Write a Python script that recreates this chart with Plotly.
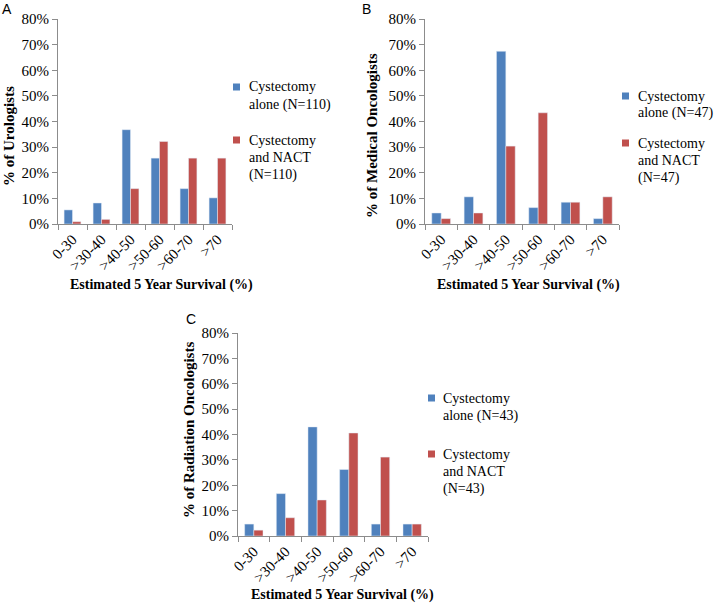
import plotly.graph_objects as go

W, H = 714, 608

categories = ["0-30", ">30-40", ">40-50", ">50-60", ">60-70", ">70"]

# share of respondents (fraction) per survival bucket
uro_alone = [0.055, 0.082, 0.368, 0.257, 0.138, 0.102]
uro_nact = [0.009, 0.018, 0.138, 0.322, 0.257, 0.257]

med_alone = [0.043, 0.106, 0.674, 0.064, 0.085, 0.021]
med_nact = [0.021, 0.043, 0.304, 0.434, 0.085, 0.106]

rad_alone = [0.047, 0.167, 0.430, 0.262, 0.047, 0.047]
rad_nact = [0.023, 0.072, 0.142, 0.406, 0.311, 0.047]

panels = [
    ("A", "% of Urologists", uro_alone, uro_nact, 110),
    ("B", "% of Medical Oncologists", med_alone, med_nact, 47),
    ("C", "% of Radiation Oncologists", rad_alone, rad_nact, 43),
]

BLUE = "#4F81BD"
RED = "#C0504D"
SERIF = "Liberation Serif, Times New Roman, serif"
AXIS_GREY = "#8c8c8c"

# pixel boxes of each plot area: left, right, top, bottom
boxes = [(58, 232, 19, 224), (425, 619, 19, 224), (238, 428, 333, 536)]

# legend: marker left x, text left x, first-line centre y of each entry
legend_px = [(233, 247, 87, 140), (622, 636, 96, 143), (428, 441, 398, 454)]
ytitle_xy = [(9, 136), (372, 136), (189, 430)]
xtitle_xy = [(161, 285), (528, 285), (342, 595)]
letter_xy = [(7, 9), (367, 9), (191, 319)]


def px_x(v):
    return v / W


def px_y(v):
    return 1 - v / H


fig = go.Figure()

for i, (letter, ytitle, alone, nact, n) in enumerate(panels):
    suffix = "" if i == 0 else str(i + 1)
    fig.add_trace(go.Bar(
        x=categories, y=alone, name=f"Cystectomy alone (N={n})",
        marker_color=BLUE, xaxis="x" + suffix, yaxis="y" + suffix,
    ))
    fig.add_trace(go.Bar(
        x=categories, y=nact, name=f"Cystectomy and NACT (N={n})",
        marker_color=RED, xaxis="x" + suffix, yaxis="y" + suffix,
    ))

layout = dict(
    width=W, height=H,
    margin=dict(l=0, r=0, t=0, b=0),
    paper_bgcolor="white", plot_bgcolor="white",
    barmode="group", bargap=0.42, bargroupgap=0,
    showlegend=False,
    font=dict(family=SERIF, size=15, color="black"),
    annotations=[], shapes=[],
)

LEG_FONT = 14
LINE_H = 17.5

for i, (letter, ytitle, alone, nact, n) in enumerate(panels):
    suffix = "" if i == 0 else str(i + 1)
    l, r, t, b = boxes[i]
    layout["xaxis" + suffix] = dict(
        domain=[px_x(l), px_x(r)], anchor="y" + suffix, automargin=False,
        type="category", showline=True, linecolor=AXIS_GREY, linewidth=1,
        ticks="outside", tickson="boundaries", ticklen=5, tickcolor=AXIS_GREY,
        tickangle=-45, tickfont=dict(family=SERIF, size=15),
        showgrid=False, zeroline=False,
    )
    layout["yaxis" + suffix] = dict(
        domain=[px_y(b), px_y(t)], anchor="x" + suffix, automargin=False,
        range=[0, 0.8], dtick=0.1, tickformat=".0%",
        showline=True, linecolor=AXIS_GREY, linewidth=1,
        ticks="outside", ticklen=5, tickcolor=AXIS_GREY,
        tickfont=dict(family=SERIF, size=15),
        showgrid=False, zeroline=False,
    )

    # hand-placed legend, Excel style: small square beside multi-line text
    mx, tx, y1, y2 = legend_px[i]
    entries = [(BLUE, ["Cystectomy", f"alone (N={n})"], y1),
               (RED, ["Cystectomy", "and NACT", f"(N={n})"], y2)]
    for color, lines, yc in entries:
        layout["shapes"].append(dict(
            type="rect", xref="paper", yref="paper",
            x0=px_x(mx), x1=px_x(mx + 7), y0=px_y(yc - 3.5), y1=px_y(yc + 3.5),
            fillcolor=color, line_width=0,
        ))
        for k, line in enumerate(lines):
            layout["annotations"].append(dict(
                text=line, showarrow=False, xref="paper", yref="paper",
                x=px_x(tx), y=px_y(yc + k * LINE_H), xanchor="left", yanchor="middle",
                font=dict(family=SERIF, size=LEG_FONT),
            ))

    layout["annotations"] += [
        dict(text=f"<b>{ytitle}</b>", textangle=-90, showarrow=False,
             xref="paper", yref="paper", xanchor="center", yanchor="middle",
             x=px_x(ytitle_xy[i][0]), y=px_y(ytitle_xy[i][1]),
             font=dict(family=SERIF, size=15)),
        dict(text="<b>Estimated 5 Year Survival (%)</b>", showarrow=False,
             xref="paper", yref="paper", xanchor="center", yanchor="middle",
             x=px_x(xtitle_xy[i][0]), y=px_y(xtitle_xy[i][1]),
             font=dict(family=SERIF, size=14)),
        dict(text=letter, showarrow=False, xref="paper", yref="paper",
             xanchor="center", yanchor="middle",
             x=px_x(letter_xy[i][0]), y=px_y(letter_xy[i][1]),
             font=dict(family="Liberation Sans, Arial, sans-serif", size=14)),
    ]

fig.update_layout(**layout)
# drop the page's default body margin so the figure sits at the window origin
fig.write_html("out.html", config={"displayModeBar": False},
               post_script="document.body.style.margin='0';")
